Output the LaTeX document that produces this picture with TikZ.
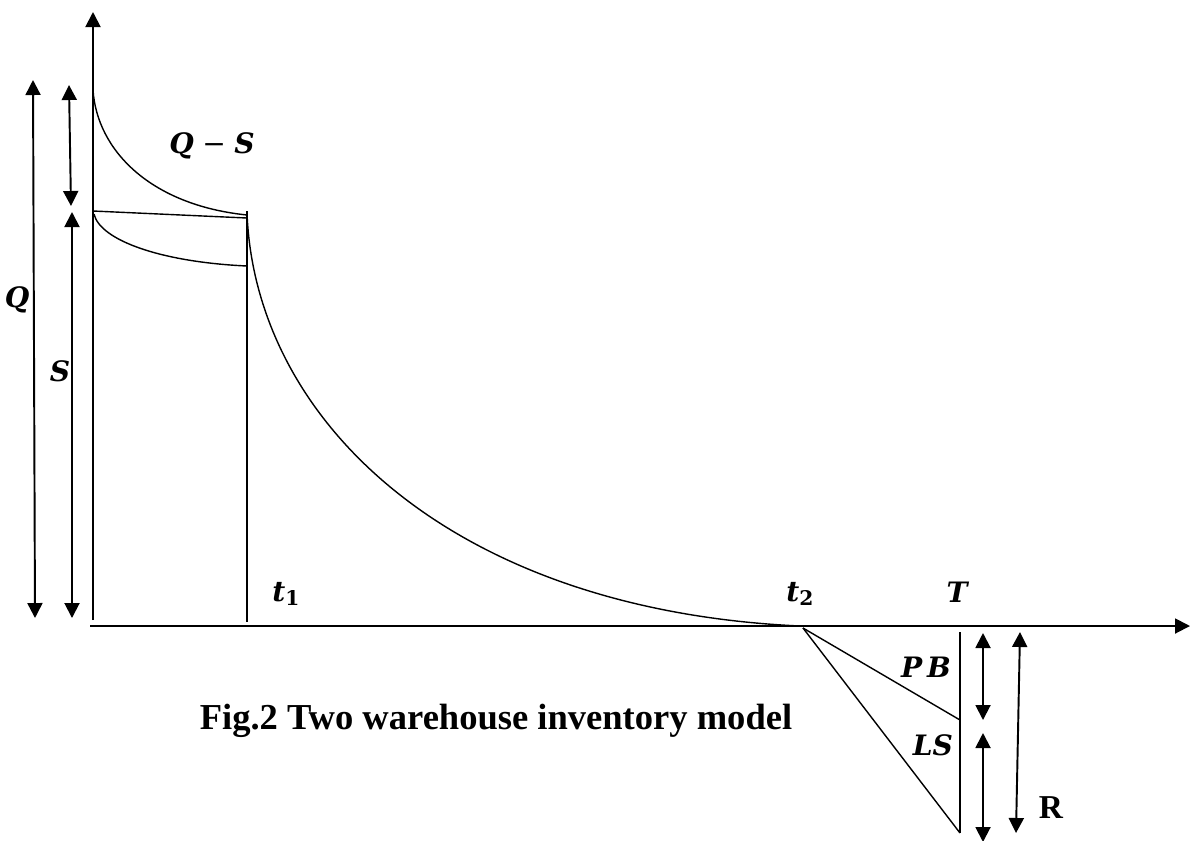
\documentclass[tikz,border=0pt]{standalone}
\usepackage{fontspec}
\setmainfont{Liberation Serif}
\newfontfamily\labfont{DejaVu Serif}
\usetikzlibrary{arrows.meta}
\newcommand{\lbl}[1]{{\labfont\bfseries\itshape #1}}
\newcommand{\subdig}[1]{\raisebox{-0.35ex}{\labfont\bfseries\fontsize{11.5}{13}\selectfont #1}}
\begin{document}
\begin{tikzpicture}[x=0.02cm,y=-0.02cm,
  axis/.style={line width=1.1pt,-{Triangle[length=0.3cm,width=0.3cm]}},
  dim/.style={line width=1.1pt,{Triangle[length=0.3cm,width=0.3cm]}-{Triangle[length=0.3cm,width=0.3cm]}},
  thin line/.style={line width=0.8pt},
  lab/.style={inner sep=0pt,font=\fontsize{16}{19}\selectfont},
  captext/.style={inner sep=0pt,font=\fontsize{20.8}{24}\selectfont\bfseries}]
\useasboundingbox (0,0) rectangle (1190,840);
% axes
\coordinate (ybot) at (93,620);
\coordinate (ytop) at (93,12);
\coordinate (xl) at (90,626);
\coordinate (xr) at (1190,626);
\draw[axis] (ybot) -- (ytop);
\draw[axis] (xl) -- (xr);
% key points
\coordinate (Qtop) at (93,90);
\coordinate (Stop) at (93,211);
\coordinate (Slow) at (94,214);
\coordinate (A) at (247,215);
\coordinate (A2) at (247,218);
\coordinate (B) at (247,266);
\coordinate (t1top) at (247,211);
\coordinate (t1bot) at (247,622);
\coordinate (C) at (247,213);
\coordinate (t2p) at (800,626);
\coordinate (apex) at (803,628);
\coordinate (Ttop) at (960,632);
\coordinate (Tmid) at (960,720);
\coordinate (Tbot) at (960,833);
% curves
\draw[thin line] (Qtop) .. controls (97,150) and (150,205) .. (A);
\draw[thin line] (Stop) -- (A2);
\draw[thin line] (Slow) .. controls (100,240) and (160,262) .. (B);
\draw[thin line] (t1top) -- (t1bot);
\draw[thin line] (C) .. controls (255,420) and (450,610) .. (t2p);
% shortage triangle
\draw[thin line] (apex) -- (Tmid);
\draw[thin line] (apex) -- (Tbot);
\draw[thin line] (Ttop) -- (Tbot);
% dimension arrows left
\coordinate (qa) at (33,80);
\coordinate (qb) at (35,618);
\coordinate (da) at (69,85);
\coordinate (db) at (71,206);
\coordinate (sa) at (72,212);
\coordinate (sb) at (72,618);
\draw[dim] (qa) -- (qb);
\draw[dim] (da) -- (db);
\draw[dim] (sa) -- (sb);
% dimension arrows right
\coordinate (pa) at (983,633);
\coordinate (pb) at (983,720);
\coordinate (la) at (983,733);
\coordinate (lb) at (983,842);
\coordinate (ra) at (1020,632);
\coordinate (rb) at (1016,833);
\draw[dim] (pa) -- (pb);
\draw[dim] (la) -- (lb);
\draw[dim] (ra) -- (rb);
% labels
\node[lab] (LQ) at (17,300) {\lbl{Q}};
\node[lab] (LS1) at (60,371) {\lbl{S}};
\node[lab] (LQS) at (212,146) {\lbl{Q}\hspace{0.3em}{\labfont −}\hspace{0.3em}\lbl{S}};
\node[lab] (Lt1) at (286,594) {\lbl{t}\subdig{1}};
\node[lab] (Lt2) at (800,594) {\lbl{t}\subdig{2}};
\node[lab] (LT) at (957,592) {\lbl{T}};
\node[lab] (LPB) at (926,667) {\lbl{P\,B}};
\node[lab] (LLS) at (933,745) {\lbl{LS}};
\node[inner sep=0pt,font=\fontsize{19}{22}\selectfont\bfseries] (LR) at (1051,808) {R};
\node[captext] (caption) at (496,721) {Fig.2 Two warehouse inventory model};
\end{tikzpicture}
\end{document}
